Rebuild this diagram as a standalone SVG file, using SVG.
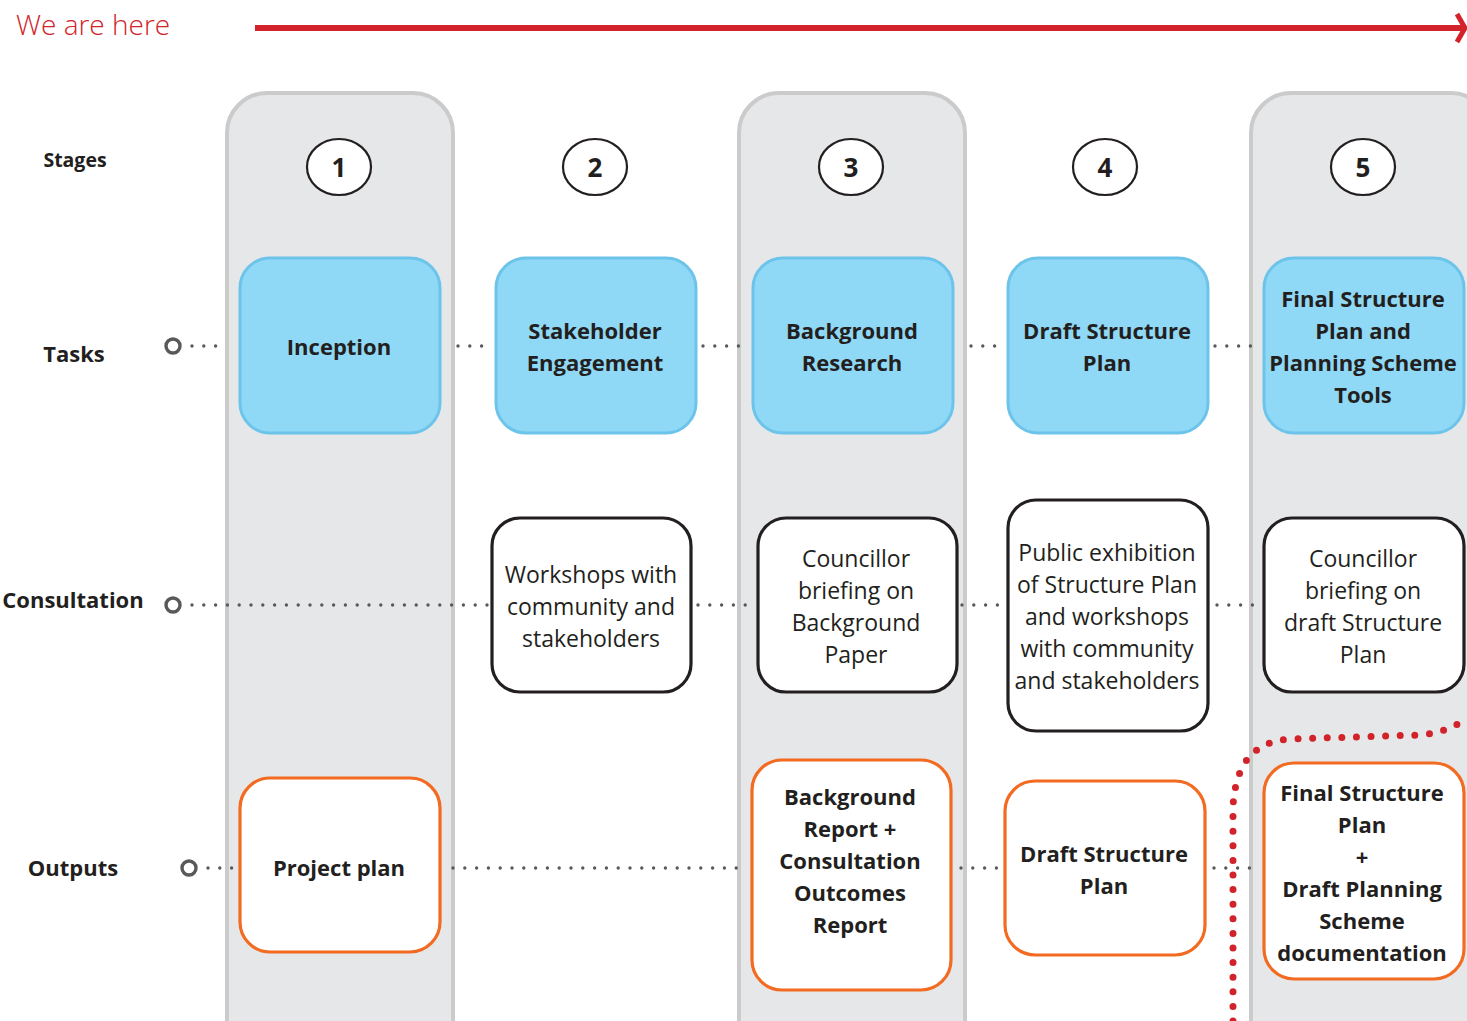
<svg xmlns="http://www.w3.org/2000/svg" width="1467" height="1021" viewBox="0 0 1467 1021">
  <style>
    .col { fill: #e6e7e8; stroke: #cbcbcc; stroke-width: 4; }
    .stage { fill: #ffffff; stroke: #231f20; stroke-width: 2.2; }
    .num { font-family: "Open Sans", "Liberation Sans", sans-serif; font-weight: 700; font-size: 26px; fill: #231f20; text-anchor: middle; }
    .task { fill: #8fd8f6; stroke: #6cc4ea; stroke-width: 3; }
    .cons { fill: #ffffff; stroke: #231f20; stroke-width: 3.2; }
    .out { fill: #ffffff; stroke: #f26b21; stroke-width: 3.2; }
    .bold { font-family: "Open Sans", "Liberation Sans", sans-serif; font-weight: 700; font-size: 22px; fill: #231f20; text-anchor: middle; }
    .reg { font-family: "Open Sans", "Liberation Sans", sans-serif; font-weight: 400; font-size: 23px; fill: #231f20; text-anchor: middle; }
    .row { font-family: "Open Sans", "Liberation Sans", sans-serif; font-weight: 700; font-size: 22px; fill: #231f20; text-anchor: middle; }
    .row.small { font-size: 19.5px; }
    .dots { fill: none; stroke: #58595b; stroke-width: 3.4; stroke-linecap: round; stroke-dasharray: 0 11.8; }
    .ring { fill: none; stroke: #58595b; stroke-width: 3.4; }
  </style>

  <!-- progress arrow -->
  <g id="progress">
    <text x="16" y="35" font-family="'Open Sans', 'Liberation Sans', sans-serif" font-size="28" font-weight="300" fill="#d2232a">We are here</text>
    <line x1="255" y1="28" x2="1462" y2="28" stroke="#d2232a" stroke-width="6"/>
    <polyline points="1457,14 1465,28 1457,42" fill="none" stroke="#d2232a" stroke-width="5"/>
  </g>

  <!-- stage columns -->
  <g id="columns">
    <rect class="col" x="227" y="93" width="226" height="980" rx="40"/>
    <rect class="col" x="739" y="93" width="226" height="980" rx="40"/>
    <rect class="col" x="1251" y="93" width="240" height="980" rx="40"/>
  </g>

  <!-- row labels -->
  <g id="row-labels">
    <text class="row small" x="75" y="167">Stages</text>
    <text class="row" x="74" y="362">Tasks</text>
    <text class="row" x="73" y="608">Consultation</text>
    <text class="row" x="73" y="876">Outputs</text>
  </g>

  <!-- connectors -->
  <g id="connectors">
    <circle class="ring" cx="173" cy="346" r="7"/>
    <circle class="ring" cx="173" cy="605" r="7"/>
    <circle class="ring" cx="189" cy="868" r="7"/>
    <!-- tasks row -->
    <path class="dots" d="M192,346 H218 M458,346 H492 M703,346 H740 M971,346 H1004 M1215,346 H1251"/>
    <!-- consultation row -->
    <path class="dots" d="M192,605 H488 M698,605 H754 M962,605 H1004 M1217,605 H1258"/>
    <!-- outputs row -->
    <path class="dots" d="M208,868 H236 M453,868 H748 M961,868 H1000 M1214,868 H1260"/>
    <path d="M1233,1021 L1233,806 C1236,762 1254,742 1290,739 L1420,735 C1440,733 1455,727 1467,718" fill="none" stroke="#d2232a" stroke-width="7" stroke-linecap="round" stroke-dasharray="0 14.6"/>
  </g>

  <!-- stages -->
  <g id="stage-1"><ellipse class="stage" cx="339" cy="167" rx="32" ry="28"/><text class="num" x="339" y="177">1</text></g>
  <g id="stage-2"><ellipse class="stage" cx="595" cy="167" rx="32" ry="28"/><text class="num" x="595" y="177">2</text></g>
  <g id="stage-3"><ellipse class="stage" cx="851" cy="167" rx="32" ry="28"/><text class="num" x="851" y="177">3</text></g>
  <g id="stage-4"><ellipse class="stage" cx="1105" cy="167" rx="32" ry="28"/><text class="num" x="1105" y="177">4</text></g>
  <g id="stage-5"><ellipse class="stage" cx="1363" cy="167" rx="32" ry="28"/><text class="num" x="1363" y="177">5</text></g>

  <!-- tasks -->
  <g id="task-inception">
    <rect class="task" x="240" y="258" width="200" height="175" rx="30"/>
    <text class="bold" x="339" y="355">Inception</text>
  </g>
  <g id="task-stakeholder">
    <rect class="task" x="496" y="258" width="200" height="175" rx="30"/>
    <text class="bold" x="595" y="339">Stakeholder</text>
    <text class="bold" x="595" y="371">Engagement</text>
  </g>
  <g id="task-background">
    <rect class="task" x="753" y="258" width="200" height="175" rx="30"/>
    <text class="bold" x="852" y="339">Background</text>
    <text class="bold" x="852" y="371">Research</text>
  </g>
  <g id="task-draft">
    <rect class="task" x="1008" y="258" width="200" height="175" rx="30"/>
    <text class="bold" x="1107" y="339">Draft Structure</text>
    <text class="bold" x="1107" y="371">Plan</text>
  </g>
  <g id="task-final">
    <rect class="task" x="1264" y="258" width="200" height="175" rx="30"/>
    <text class="bold" x="1363" y="307">Final Structure</text>
    <text class="bold" x="1363" y="339">Plan and</text>
    <text class="bold" x="1363" y="371">Planning Scheme</text>
    <text class="bold" x="1363" y="403">Tools</text>
  </g>

  <!-- consultation -->
  <g id="cons-workshops">
    <rect class="cons" x="492" y="518" width="199" height="174" rx="28"/>
    <text class="reg" x="591" y="583">Workshops with</text>
    <text class="reg" x="591" y="615">community and</text>
    <text class="reg" x="591" y="647">stakeholders</text>
  </g>
  <g id="cons-briefing-bg">
    <rect class="cons" x="758" y="518" width="199" height="174" rx="28"/>
    <text class="reg" x="856" y="567">Councillor</text>
    <text class="reg" x="856" y="599">briefing on</text>
    <text class="reg" x="856" y="631">Background</text>
    <text class="reg" x="856" y="663">Paper</text>
  </g>
  <g id="cons-exhibition">
    <rect class="cons" x="1008" y="500" width="200" height="231" rx="28"/>
    <text class="reg" x="1107" y="561">Public exhibition</text>
    <text class="reg" x="1107" y="593">of Structure Plan</text>
    <text class="reg" x="1107" y="625">and workshops</text>
    <text class="reg" x="1107" y="657">with community</text>
    <text class="reg" x="1107" y="689">and stakeholders</text>
  </g>
  <g id="cons-briefing-draft">
    <rect class="cons" x="1264" y="518" width="200" height="174" rx="28"/>
    <text class="reg" x="1363" y="567">Councillor</text>
    <text class="reg" x="1363" y="599">briefing on</text>
    <text class="reg" x="1363" y="631">draft Structure</text>
    <text class="reg" x="1363" y="663">Plan</text>
  </g>

  <!-- outputs -->
  <g id="out-project-plan">
    <rect class="out" x="240" y="778" width="200" height="174" rx="30"/>
    <text class="bold" x="339" y="876">Project plan</text>
  </g>
  <g id="out-background-report">
    <rect class="out" x="752" y="760" width="199" height="230" rx="30"/>
    <text class="bold" x="850" y="805">Background</text>
    <text class="bold" x="850" y="837">Report +</text>
    <text class="bold" x="850" y="869">Consultation</text>
    <text class="bold" x="850" y="901">Outcomes</text>
    <text class="bold" x="850" y="933">Report</text>
  </g>
  <g id="out-draft-plan">
    <rect class="out" x="1005" y="781" width="200" height="174" rx="30"/>
    <text class="bold" x="1104" y="862">Draft Structure</text>
    <text class="bold" x="1104" y="894">Plan</text>
  </g>
  <g id="out-final">
    <rect class="out" x="1264" y="763" width="200" height="216" rx="30"/>
    <text class="bold" x="1362" y="801">Final Structure</text>
    <text class="bold" x="1362" y="833">Plan</text>
    <text class="bold" x="1362" y="865">+</text>
    <text class="bold" x="1362" y="897">Draft Planning</text>
    <text class="bold" x="1362" y="929">Scheme</text>
    <text class="bold" x="1362" y="961">documentation</text>
  </g>
</svg>
